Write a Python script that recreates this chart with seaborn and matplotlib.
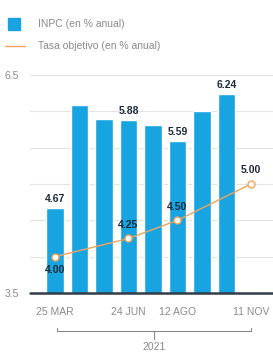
import numpy as np
import matplotlib
matplotlib.use('Agg')
import matplotlib.pyplot as plt
import seaborn as sns

# INPC mensual 2021 (mar - oct)
meses = ['MAR', 'ABR', 'MAY', 'JUN', 'JUL', 'AGO', 'SEP', 'OCT']
inpc = [4.67, 6.08, 5.89, 5.88, 5.81, 5.59, 6.00, 6.24]
inpc_etiqueta = [True, False, False, True, False, True, False, True]

# tasa objetivo (decisiones de política monetaria)
tasa_pos = [0, 3, 5, 8]
tasa = [4.00, 4.25, 4.50, 5.00]
tasa_fechas = ['25 MAR', '24 JUN', '12 AGO', '11 NOV']

azul = '#18a4e0'
naranja = '#f4a35c'
gris = '#8a8a8a'
texto = '#1d2a3a'

sns.set_style('white')
plt.rcParams['font.family'] = ['Liberation Sans', 'DejaVu Sans']

fig = plt.figure(figsize=(2.73, 3.58), dpi=100)
ax = fig.add_axes([0.11, 0.1816, 0.89, 0.609])

sns.barplot(x=list(range(len(meses))), y=inpc, color=azul, width=0.7,
            saturation=1, ax=ax, native_scale=True)
sns.lineplot(x=tasa_pos, y=tasa, color=naranja, lw=1, marker='o', markersize=5,
             markerfacecolor='white', markeredgecolor=naranja, markeredgewidth=1,
             ax=ax, zorder=3)

# etiquetas de barras
for i, v in enumerate(inpc):
    if inpc_etiqueta[i]:
        ax.text(i, v + 0.05, f'{v:.2f}', ha='center', va='bottom', fontsize=7.5,
                fontweight='bold', color=texto)

# etiquetas de la tasa
ax.text(tasa_pos[0], tasa[0] - 0.12, f'{tasa[0]:.2f}', ha='center', va='top',
        fontsize=7.5, fontweight='bold', color=texto, zorder=4)
for p, v in zip(tasa_pos[1:], tasa[1:]):
    ax.text(p, v + 0.12, f'{v:.2f}', ha='center', va='bottom', fontsize=7.5,
            fontweight='bold', color=texto, zorder=4)

ax.set_ylim(3.5, 6.5)
ax.set_xlim(-1.02, 8.9)
for y in np.arange(4.0, 6.51, 0.5):
    ax.axhline(y, color='#e3e3e3', lw=0.8, zorder=0)
ax.axhline(3.5, color='#333c45', lw=1.8, zorder=5, clip_on=False)

ax.set_yticks([3.5, 6.5])
ax.set_yticklabels(['3.5', '6.5'])
ax.set_xticks(tasa_pos)
ax.set_xticklabels(tasa_fechas)
ax.tick_params(axis='both', length=0, labelsize=7.5, labelcolor=gris)
ax.tick_params(axis='x', pad=10)
ax.tick_params(axis='y', pad=8)
for s in ax.spines.values():
    s.set_visible(False)
ax.set_xlabel('')
ax.set_ylabel('')

# corchete del año
trans = ax.get_xaxis_transform()
yb = -0.175
ax.plot([0.1, 8.0], [yb, yb], color=gris, lw=0.8, transform=trans, clip_on=False)
ax.plot([0.1, 0.1], [yb, yb + 0.015], color=gris, lw=0.8, transform=trans, clip_on=False)
ax.plot([8.0, 8.0], [yb, yb + 0.015], color=gris, lw=0.8, transform=trans, clip_on=False)
ax.plot([4.05, 4.05], [yb, yb - 0.035], color=gris, lw=0.8, transform=trans, clip_on=False)
ax.text(4.05, yb - 0.05, '2021', ha='center', va='top', fontsize=7.5,
        color=gris, transform=trans)

# leyenda
fig.patches.append(plt.Rectangle((0.03, 0.915), 0.045, 0.035, color=azul,
                                 transform=fig.transFigure))
fig.text(0.14, 0.932, 'INPC (en % anual)', fontsize=7.5, color=gris, va='center')
fig.lines.append(plt.Line2D([0.02, 0.09], [0.872, 0.872], color=naranja, lw=1,
                            transform=fig.transFigure))
fig.text(0.14, 0.872, 'Tasa objetivo (en % anual)', fontsize=7.5, color=gris,
         va='center')

fig.savefig('out.png', dpi=100)
